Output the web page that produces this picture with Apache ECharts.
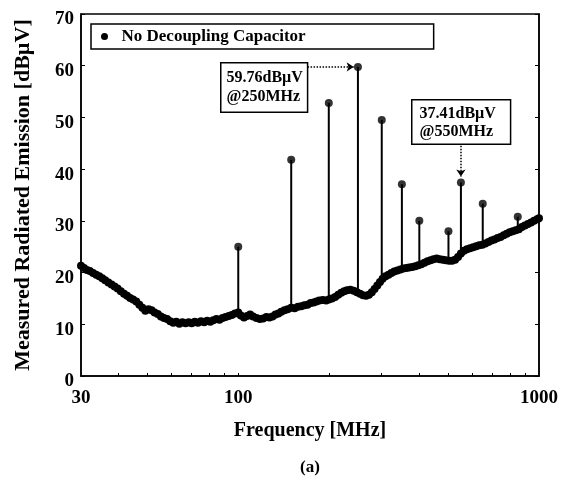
<!DOCTYPE html>
<html>
<head>
<meta charset="utf-8">
<title>Measured Radiated Emission</title>
<script src="https://cdn.jsdelivr.net/npm/echarts@6/dist/echarts.min.js"></script>
<style>
    html, body { margin: 0; padding: 0; background: #fff; }
    #chart { width: 561px; height: 483px; }
</style>
</head>
<body>
<div id="chart"></div>
<script>
// background scan, no decoupling capacitor (MHz / dBuV)
var freqs = [
    30, 30.7, 31.4, 32.1, 32.9, 33.7, 34.5, 35.3, 36.1, 37, 37.9, 38.8, 39.7, 40.7, 41.7, 42.7, 43.7, 44.7,
    45.8, 46.9, 48, 49.1, 50.3, 51.5, 52.7, 54, 55.3, 56.6, 58, 59.4, 60.8, 62.2, 63.7, 65.2, 66.8, 68.4,
    70, 71.7, 73.4, 75.2, 77, 78.8, 80.7, 82.6, 84.6, 86.6, 88.7, 90.8, 93, 95.2, 97.5, 100, 102, 104.5,
    107, 109.5, 112, 115, 118, 121, 124, 127, 130, 133, 136, 139, 142.5, 146, 150, 154, 158, 162,
    166, 170, 174, 178, 182, 186, 191, 196, 200, 205, 210, 215, 220, 225, 230, 236, 242, 248, 254, 260,
    266, 272, 278, 284, 290, 296, 302, 309, 316, 323, 330, 338, 346, 354, 362, 370, 379, 388, 397, 406,
    416, 426, 436, 446, 457, 468, 479, 490, 502, 514, 526, 538, 550, 563, 576, 590, 604, 618, 633, 648,
    663, 679, 695, 711, 728, 745, 763, 781, 799, 818, 837, 857, 877, 898, 919, 941, 963, 986, 1000
];
var emission = [
    21.3, 20.9, 20.5, 20.3, 19.9, 19.6, 19.3, 18.9, 18.5, 18.1, 17.7, 17.3, 16.9, 16.4, 15.9, 15.5, 15.1, 14.8,
    14.4, 13.8, 13.2, 12.6, 12.9, 12.7, 12.3, 12.0, 11.5, 11.2, 11.0, 10.6, 10.3, 10.5, 10.1, 10.4, 10.2, 10.4,
    10.2, 10.5, 10.3, 10.6, 10.4, 10.7, 10.5, 10.8, 11.0, 10.9, 11.2, 11.4, 11.6, 11.8, 12.1, 12.3, 11.7, 11.3,
    11.6, 11.9, 11.5, 11.2, 11.0, 11.1, 11.4, 11.3, 11.5, 11.9, 12.1, 12.4, 12.7, 12.9, 13.2, 13.1, 13.4, 13.5,
    13.7, 13.8, 14.1, 14.2, 14.4, 14.6, 14.7, 14.6, 14.8, 15.0, 15.3, 15.7, 16.1, 16.4, 16.6, 16.7, 16.5, 16.2, 15.9, 15.6,
    15.5, 15.7, 16.2, 16.8, 17.5, 18.2, 18.8, 19.3, 19.6, 19.9, 20.2, 20.4, 20.6, 20.8, 20.9, 21.0, 21.1, 21.2, 21.4, 21.6,
    21.9, 22.2, 22.4, 22.6, 22.7, 22.6, 22.5, 22.4, 22.3, 22.3, 22.5, 23.0, 23.7, 24.2, 24.5, 24.7, 24.9, 25.1, 25.3, 25.4,
    25.6, 25.9, 26.2, 26.4, 26.7, 26.9, 27.2, 27.5, 27.8, 28.0, 28.2, 28.4, 28.8, 29.1, 29.4, 29.7, 30.0, 30.3, 30.5
];
// clock harmonics standing above the background
var spikeFreq = [100, 150, 200, 250, 300, 350, 400, 500, 550, 650, 850];
var spikeBase = [12.3, 13.2, 14.8, 16.0, 18.6, 20.7, 21.3, 22.3, 23.7, 25.4, 28.3];
var spikePeak = [25.0, 41.8, 52.8, 59.76, 49.5, 37.1, 30.0, 28.0, 37.41, 33.3, 30.8];
var minorTicks = [40, 50, 60, 70, 80, 90, 100, 200, 300, 400, 500, 600, 700, 800, 900];

var font = '"Liberation Serif", "Times New Roman", serif';
var myChart = echarts.init(document.getElementById('chart'));

var baseData = freqs.map(function (f, i) { return [f, emission[i]]; });
var peakData = spikeFreq.map(function (f, i) { return [f, spikePeak[i]]; });

var series = [{
    name: 'No Decoupling Capacitor',
    type: 'line',
    data: baseData,
    symbol: 'circle',
    symbolSize: 8,
    showSymbol: true,
    itemStyle: { color: '#000' },
    lineStyle: { color: '#000', width: 6 },
    z: 3
}];
// one thin stick per harmonic
spikeFreq.forEach(function (f, i) {
    series.push({
        type: 'line',
        data: [[f, spikeBase[i]], [f, spikePeak[i]]],
        showSymbol: false,
        lineStyle: { color: '#000', width: 2 },
        z: 2
    });
});
series.push({
    type: 'scatter',
    data: peakData,
    symbolSize: 8,
    itemStyle: { color: '#000' },
    z: 4,
    markLine: {
        silent: true,
        symbol: ['none', 'arrow'],
        symbolSize: 7,
        label: { show: false },
        lineStyle: { color: '#000', type: 'dotted', width: 1.5 },
        data: [
            [{ coord: [170, 59.76] }, { coord: [242, 59.76] }],
            [{ coord: [550, 45.1] }, { coord: [550, 38.6] }]
        ]
    }
});

myChart.setOption({
    animation: false,
    backgroundColor: '#fff',
    grid: { left: 81, right: 22, top: 14, bottom: 107, show: true, borderColor: '#000', borderWidth: 1.5 },
    legend: {
        data: ['No Decoupling Capacitor'],
        left: 91,
        top: 24,
        icon: 'circle',
        itemWidth: 24,
        itemHeight: 7,
        padding: [4, 128, 4, 10],
        borderColor: '#000',
        borderWidth: 1.5,
        textStyle: { fontFamily: font, fontWeight: 'bold', fontSize: 17, color: '#000' }
    },
    xAxis: {
        type: 'log',
        logBase: 10,
        min: 30,
        max: 1000,
        name: 'Frequency [MHz]',
        nameLocation: 'middle',
        nameGap: 45,
        nameTextStyle: { fontFamily: font, fontWeight: 'bold', fontSize: 20, color: '#000' },
        axisLine: { lineStyle: { color: '#000', width: 1.5 } },
        axisTick: { inside: true, length: 3, lineStyle: { color: '#000' }, customValues: minorTicks },
        axisLabel: {
            margin: 13,
            fontFamily: font, fontWeight: 'bold', fontSize: 19, color: '#000',
            formatter: function (v) { return String(Math.round(v)); }
        },
        splitLine: { show: false }
    },
    yAxis: [{
        type: 'value',
        min: 0,
        max: 70,
        interval: 10,
        name: 'Measured Radiated Emission [dB\u00b5V]',
        nameLocation: 'middle',
        nameGap: 47,
        nameTextStyle: { fontFamily: font, fontWeight: 'bold', fontSize: 22, color: '#000' },
        axisLine: { show: true, lineStyle: { color: '#000', width: 1.5 } },
        axisTick: { show: true, inside: true, length: 4, lineStyle: { color: '#000' } },
        axisLabel: {
            margin: 7,
            formatter: '{t|{value}}',
            rich: { t: { padding: [11, 0, 0, 0], fontFamily: font, fontWeight: 'bold', fontSize: 19, color: '#000' } }
        },
        splitLine: { show: false }
    }, {
        type: 'value',
        position: 'right',
        min: 0,
        max: 70,
        interval: 10,
        axisLine: { show: true, lineStyle: { color: '#000', width: 1.5 } },
        axisTick: { show: true, inside: true, length: 4, lineStyle: { color: '#000' } },
        axisLabel: { show: false },
        splitLine: { show: false }
    }],
    series: series,
    graphic: [{
        type: 'text',
        left: 220,
        top: 62,
        z: 10,
        style: {
            text: '59.76dB\u00b5V\n@250MHz',
            font: 'bold 16px ' + font,
            fill: '#000',
            lineHeight: 19,
            backgroundColor: '#fff',
            borderColor: '#000',
            borderWidth: 1.5,
            padding: [5, 4, 5, 5]
        }
    }, {
        type: 'text',
        left: 411,
        top: 99,
        z: 10,
        style: {
            text: '37.41dB\u00b5V\n@550MHz',
            font: 'bold 16px ' + font,
            fill: '#000',
            lineHeight: 18,
            backgroundColor: '#fff',
            borderColor: '#000',
            borderWidth: 1.5,
            padding: [4, 14, 3, 7]
        }
    }, {
        type: 'text',
        x: 310,
        y: 468,
        style: {
            text: '(a)',
            font: 'bold 17px ' + font,
            fill: '#000',
            align: 'center',
            verticalAlign: 'middle'
        }
    }]
});
</script>
</body>
</html>
